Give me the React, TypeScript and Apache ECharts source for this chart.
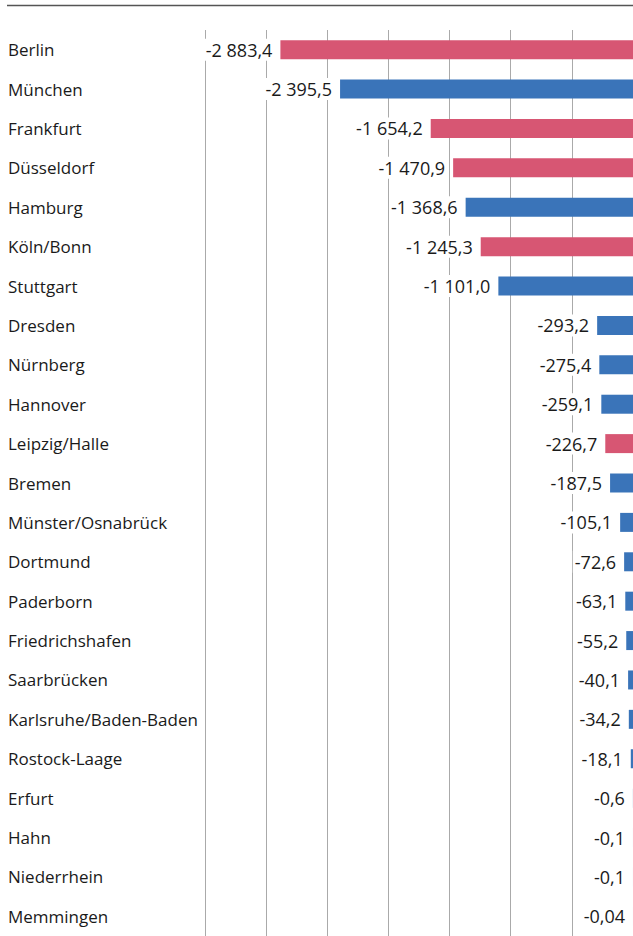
import React, { useEffect, useRef } from "react";
import * as echarts from "echarts";

const categories = [
  "Berlin", "München", "Frankfurt", "Düsseldorf", "Hamburg", "Köln/Bonn", "Stuttgart",
  "Dresden", "Nürnberg", "Hannover", "Leipzig/Halle", "Bremen", "Münster/Osnabrück",
  "Dortmund", "Paderborn", "Friedrichshafen", "Saarbrücken", "Karlsruhe/Baden-Baden",
  "Rostock-Laage", "Erfurt", "Hahn", "Niederrhein", "Memmingen",
];
const values = [
  -2883.4, -2395.5, -1654.2, -1470.9, -1368.6, -1245.3, -1101.0,
  -293.2, -275.4, -259.1, -226.7, -187.5, -105.1,
  -72.6, -63.1, -55.2, -40.1, -34.2,
  -18.1, -0.6, -0.1, -0.1, -0.04,
];
const valueLabels = [
  "-2 883,4", "-2 395,5", "-1 654,2", "-1 470,9", "-1 368,6", "-1 245,3", "-1 101,0",
  "-293,2", "-275,4", "-259,1", "-226,7", "-187,5", "-105,1",
  "-72,6", "-63,1", "-55,2", "-40,1", "-34,2",
  "-18,1", "-0,6", "-0,1", "-0,1", "-0,04",
];
const highlighted = [
  true, false, true, true, false, true, false,
  false, false, false, true, false, false,
  false, false, false, false, false,
  false, false, false, false, false,
];

const PINK = "#d75673";
const BLUE = "#3a74b9";
const FONT = "'Open Sans', sans-serif";

export default function App() {
  const ref = useRef<HTMLDivElement>(null);
  useEffect(() => {
    if (!ref.current) return;
    const chart = echarts.init(ref.current, undefined, { renderer: "svg" });
    chart.setOption({
      animation: false,
      grid: { left: 205, right: -3, top: 30, bottom: 0, containLabel: false },
      graphic: [
        {
          type: "line",
          shape: { x1: 7, y1: 5.5, x2: 640, y2: 5.5 },
          style: { stroke: "#555", lineWidth: 1.5 },
        },
      ],
      xAxis: {
        type: "value",
        min: -3500,
        max: 0,
        interval: 500,
        axisLine: { show: false },
        axisTick: { show: false },
        axisLabel: { show: false },
        splitLine: { show: true, lineStyle: { color: "#aaaaaa", width: 1 } },
      },
      yAxis: {
        type: "category",
        data: categories,
        inverse: true,
        axisLine: { show: false },
        axisTick: { show: false },
        splitLine: { show: false },
        axisLabel: {
          align: "left",
          margin: 197,
          color: "#1a1a1a",
          fontSize: 17,
          fontFamily: FONT,
        },
      },
      series: [
        {
          type: "bar",
          barWidth: 19,
          data: values.map((v, i) => ({
            value: v,
            itemStyle: { color: highlighted[i] ? PINK : BLUE },
            label: {
              show: true,
              position: "left",
              distance: 6,
              formatter: () => valueLabels[i],
              backgroundColor: "#ffffff",
              padding: [2, 2],
              color: "#1a1a1a",
              fontSize: 18,
              fontFamily: FONT,
            },
          })),
        },
      ],
    });
    return () => chart.dispose();
  }, []);
  return (
    <div
      ref={ref}
      style={{ position: "absolute", left: 0, top: 0, width: 633, height: 936 }}
    />
  );
}
